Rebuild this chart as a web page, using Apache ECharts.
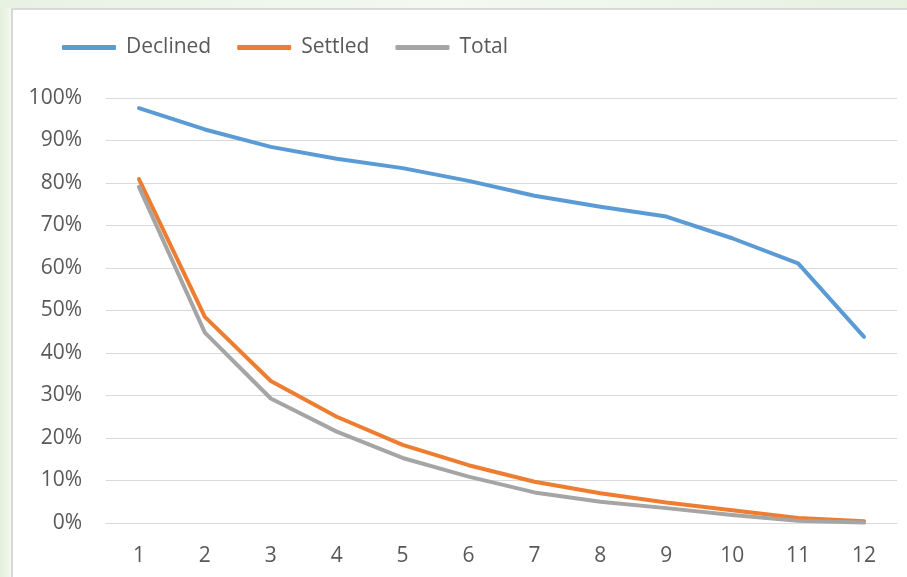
<!DOCTYPE html>
<html>
<head>
<meta charset="utf-8">
<script src="https://cdn.jsdelivr.net/npm/echarts@6/dist/echarts.min.js"></script>
<style>
  html, body { margin: 0; padding: 0; background: #ffffff; }
  #chart { width: 907px; height: 577px; }
</style>
</head>
<body>
<div id="chart"></div>
<script>
// Periods along the horizontal axis
const categories = ['1', '2', '3', '4', '5', '6', '7', '8', '9', '10', '11', '12'];

// Share of cases still open at each period (percent)
const declined = [97.6, 92.6, 88.5, 85.7, 83.5, 80.5, 77.0, 74.4, 72.1, 67.0, 61.1, 43.8];
const settled  = [80.9, 48.5, 33.4, 25.0, 18.4, 13.6, 9.7, 7.0, 4.8, 3.0, 1.2, 0.4];
const total    = [79.1, 44.8, 29.3, 21.5, 15.3, 10.9, 7.2, 5.0, 3.5, 1.9, 0.5, 0.1];

const seriesNames = ['Declined', 'Settled', 'Total'];
const seriesColors = ['#5b9bd5', '#ed7d31', '#a5a5a5'];

const FONT = 'Open Sans';
const TEXT = '#595959';

const chart = echarts.init(document.getElementById('chart'), null, { renderer: 'canvas' });

function lineSeries(i, data) {
  return {
    name: seriesNames[i],
    type: 'line',
    data: data,
    symbol: 'none',
    smooth: false,
    lineStyle: { color: seriesColors[i], width: 4, cap: 'round', join: 'round' },
    itemStyle: { color: seriesColors[i] },
    emphasis: { disabled: true }
  };
}

chart.setOption({
  animation: false,
  backgroundColor: '#ffffff',
  graphic: [
    // pale green backdrop around the chart frame
    { type: 'rect', z: -10, shape: { x: 0, y: 0, width: 11, height: 577 },
      style: { fill: new echarts.graphic.LinearGradient(0, 0, 1, 0, [
        { offset: 0, color: '#e2efdc' }, { offset: 1, color: '#f3f8f0' }]) } },
    { type: 'rect', z: -10, shape: { x: 0, y: 0, width: 907, height: 8 },
      style: { fill: new echarts.graphic.LinearGradient(0, 0, 1, 0, [
        { offset: 0, color: '#e8f2e3' }, { offset: 0.5, color: '#f4f9f1' }, { offset: 1, color: '#e6f1e0' }]) } },
    // chart frame
    { type: 'polyline', z: -5, shape: { points: [[12, 577], [12, 9], [907, 9]] },
      style: { stroke: '#d9d9d9', lineWidth: 2, fill: null } }
  ],
  legend: {
    data: seriesNames,
    left: 57,
    top: 32,
    itemWidth: 54,
    itemHeight: 5,
    itemGap: 26,
    icon: 'roundRect',
    textStyle: { fontFamily: FONT, fontSize: 21, color: TEXT, padding: [0, 0, 0, 5] }
  },
  grid: { left: 106, right: 10, top: 98, bottom: 54, containLabel: false },
  xAxis: {
    type: 'category',
    data: categories,
    boundaryGap: true,
    axisLine: { show: true, lineStyle: { color: '#d9d9d9', width: 1 } },
    axisTick: { show: false },
    axisLabel: { fontFamily: FONT, fontSize: 21, color: TEXT, margin: 23 },
    splitLine: { show: false }
  },
  yAxis: {
    type: 'value',
    min: 0,
    max: 100,
    interval: 10,
    axisLine: { show: false },
    axisTick: { show: false },
    axisLabel: { fontFamily: FONT, fontSize: 21, color: TEXT, margin: 24, formatter: '{value}%' },
    splitLine: { show: true, lineStyle: { color: '#d9d9d9', width: 1 } }
  },
  series: [
    lineSeries(0, declined),
    lineSeries(1, settled),
    lineSeries(2, total)
  ]
});
</script>
</body>
</html>
